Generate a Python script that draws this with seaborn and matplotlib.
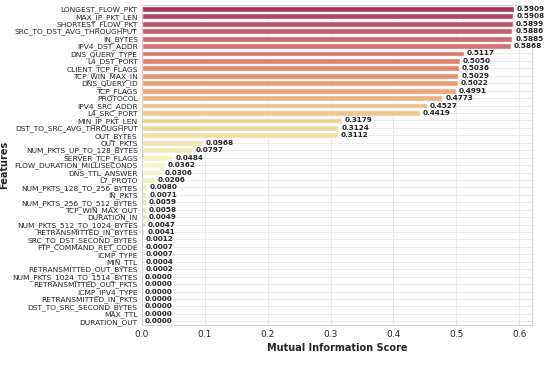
import matplotlib
matplotlib.use("Agg")
import matplotlib.pyplot as plt
import seaborn as sns
import pandas as pd

features = [
    "LONGEST_FLOW_PKT", "MAX_IP_PKT_LEN", "SHORTEST_FLOW_PKT", "SRC_TO_DST_AVG_THROUGHPUT",
    "IN_BYTES", "IPV4_DST_ADDR", "DNS_QUERY_TYPE", "L4_DST_PORT", "CLIENT_TCP_FLAGS",
    "TCP_WIN_MAX_IN", "DNS_QUERY_ID", "TCP_FLAGS", "PROTOCOL", "IPV4_SRC_ADDR",
    "L4_SRC_PORT", "MIN_IP_PKT_LEN", "DST_TO_SRC_AVG_THROUGHPUT", "OUT_BYTES",
    "OUT_PKTS", "NUM_PKTS_UP_TO_128_BYTES", "SERVER_TCP_FLAGS",
    "FLOW_DURATION_MILLISECONDS", "DNS_TTL_ANSWER", "L7_PROTO",
    "NUM_PKTS_128_TO_256_BYTES", "IN_PKTS", "NUM_PKTS_256_TO_512_BYTES",
    "TCP_WIN_MAX_OUT", "DURATION_IN", "NUM_PKTS_512_TO_1024_BYTES",
    "RETRANSMITTED_IN_BYTES", "SRC_TO_DST_SECOND_BYTES", "FTP_COMMAND_RET_CODE",
    "ICMP_TYPE", "MIN_TTL", "RETRANSMITTED_OUT_BYTES", "NUM_PKTS_1024_TO_1514_BYTES",
    "RETRANSMITTED_OUT_PKTS", "ICMP_IPV4_TYPE", "RETRANSMITTED_IN_PKTS",
    "DST_TO_SRC_SECOND_BYTES", "MAX_TTL", "DURATION_OUT",
]
scores = [
    0.5909, 0.5908, 0.5899, 0.5886, 0.5885, 0.5868, 0.5117, 0.5050, 0.5036,
    0.5029, 0.5022, 0.4991, 0.4773, 0.4527, 0.4419, 0.3179, 0.3124, 0.3112,
    0.0968, 0.0797, 0.0484, 0.0362, 0.0306, 0.0206, 0.0080, 0.0071, 0.0059,
    0.0058, 0.0049, 0.0047, 0.0041, 0.0012, 0.0007, 0.0007, 0.0004, 0.0002,
    0.0000, 0.0000, 0.0000, 0.0000, 0.0000, 0.0000, 0.0000,
]

df = pd.DataFrame({"Feature": features, "MI": scores})

sns.set_style("whitegrid")
fig, ax = plt.subplots(figsize=(5.5, 3.66), dpi=100)
fig.subplots_adjust(left=0.258, right=0.967, top=0.986, bottom=0.112)

sns.barplot(data=df, x="MI", y="Feature", hue="Feature", palette="Spectral",
            legend=False, ax=ax, width=0.78, alpha=0.88)

for i, v in enumerate(scores):
    ax.text(v + 0.005, i, f"{v:.4f}", va="center", ha="left",
            fontsize=5.2, fontweight="bold")

ax.set_xlim(0, 0.62)
ax.set_xlabel("Mutual Information Score", fontsize=7, fontweight="bold", labelpad=3)
ax.set_ylabel("Features", fontsize=7, fontweight="bold", labelpad=2)
ax.tick_params(axis="y", labelsize=5.4, pad=3, length=0)
ax.tick_params(axis="x", labelsize=6.5, length=0)
ax.grid(color="#e6e6e6", linewidth=0.6)
for s in ax.spines.values():
    s.set_color("#cccccc")
    s.set_linewidth(0.6)

plt.savefig("out.png", dpi=100)
